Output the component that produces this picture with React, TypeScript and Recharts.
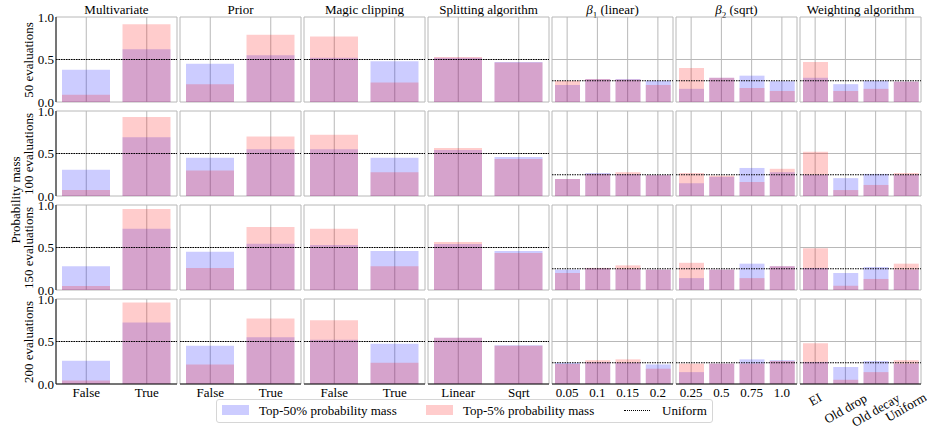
import React from 'react';
import { BarChart, Bar, XAxis, YAxis, CartesianGrid, ReferenceLine } from 'recharts';

const FONT = '"Liberation Serif", "Times New Roman", serif';

const evaluations = [50, 100, 150, 200];

// values per row (50, 100, 150, 200 evaluations), one entry per category
const multivariateCats = ['False', 'True'];
const multivariateTop50 = [[0.38, 0.62], [0.31, 0.69], [0.28, 0.72], [0.275, 0.725]];
const multivariateTop5 = [[0.085, 0.915], [0.07, 0.93], [0.047, 0.953], [0.04, 0.96]];

const priorCats = ['False', 'True'];
const priorTop50 = [[0.45, 0.55], [0.45, 0.55], [0.45, 0.545], [0.45, 0.55]];
const priorTop5 = [[0.21, 0.79], [0.3, 0.7], [0.26, 0.74], [0.23, 0.77]];

const clippingCats = ['False', 'True'];
const clippingTop50 = [[0.52, 0.48], [0.55, 0.45], [0.53, 0.46], [0.52, 0.475]];
const clippingTop5 = [[0.77, 0.23], [0.72, 0.28], [0.72, 0.28], [0.75, 0.25]];

const splittingCats = ['Linear', 'Sqrt'];
const splittingTop50 = [[0.52, 0.47], [0.54, 0.46], [0.54, 0.46], [0.545, 0.455]];
const splittingTop5 = [[0.53, 0.465], [0.565, 0.435], [0.565, 0.435], [0.545, 0.45]];

const beta1Cats = ['0.05', '0.1', '0.15', '0.2'];
const beta1Top50 = [[0.2, 0.27, 0.27, 0.25], [0.2, 0.27, 0.255, 0.245], [0.24, 0.255, 0.245, 0.24], [0.25, 0.255, 0.25, 0.23]];
const beta1Top5 = [[0.25, 0.27, 0.265, 0.2], [0.2, 0.26, 0.28, 0.245], [0.2, 0.26, 0.29, 0.24], [0.235, 0.28, 0.29, 0.18]];

const beta2Cats = ['0.25', '0.5', '0.75', '1.0'];
const beta2Top50 = [[0.155, 0.285, 0.31, 0.245], [0.15, 0.225, 0.33, 0.28], [0.14, 0.24, 0.31, 0.28], [0.14, 0.24, 0.29, 0.28]];
const beta2Top5 = [[0.4, 0.285, 0.165, 0.13], [0.27, 0.24, 0.165, 0.32], [0.32, 0.24, 0.14, 0.28], [0.24, 0.24, 0.24, 0.27]];

const weightingCats = ['EI', 'Old drop', 'Old decay', 'Uniform'];
const weightingTop50 = [[0.285, 0.21, 0.25, 0.24], [0.25, 0.21, 0.26, 0.25], [0.26, 0.2, 0.27, 0.24], [0.26, 0.2, 0.27, 0.24]];
const weightingTop5 = [[0.47, 0.13, 0.155, 0.24], [0.52, 0.07, 0.13, 0.27], [0.49, 0.05, 0.13, 0.31], [0.48, 0.05, 0.14, 0.28]];

const panels = [
  { title: <>Multivariate</>, cats: multivariateCats, top50: multivariateTop50, top5: multivariateTop5 },
  { title: <>Prior</>, cats: priorCats, top50: priorTop50, top5: priorTop5 },
  { title: <>Magic clipping</>, cats: clippingCats, top50: clippingTop50, top5: clippingTop5 },
  { title: <>Splitting algorithm</>, cats: splittingCats, top50: splittingTop50, top5: splittingTop5 },
  { title: <><i>β</i><sub style={{ fontSize: 9 }}>1</sub> (linear)</>, cats: beta1Cats, top50: beta1Top50, top5: beta1Top5 },
  { title: <><i>β</i><sub style={{ fontSize: 9 }}>2</sub> (sqrt)</>, cats: beta2Cats, top50: beta2Top50, top5: beta2Top5 },
  { title: <>Weighting algorithm</>, cats: weightingCats, top50: weightingTop50, top5: weightingTop5 },
];

// layout
const COL_LEFT = [56, 180, 304, 428, 552, 676, 800];
const ROW_TOP = [17, 111, 205, 299];
const W = 121;
const H = 85;
const M = 8;
const BLUE = 'rgba(0,0,255,0.2)';
const RED = 'rgba(255,0,0,0.2)';
const FRAME = '#111';
const GRID = '#b8b8b8';

const ANGLE = 30;
function SlantTick(props: any) {
  const { x, y, payload } = props;
  const label = String(payload.value);
  const w = label.length * 6.1;
  const rad = (ANGLE * Math.PI) / 180;
  const h = w * Math.sin(rad) + 10 * Math.cos(rad);
  const cy = y + 4 + h / 2;
  return (
    <text x={x} y={cy} textAnchor="middle" dominantBaseline="central"
      transform={`rotate(-${ANGLE}, ${x}, ${cy})`} fill="#000" fontSize={13} fontFamily={FONT}>
      {label}
    </text>
  );
}

// keeps the ticks (and so the vertical grid lines) without drawing any label
function NoTick() {
  return <g />;
}

function Panel({ col, row }: { col: number; row: number }) {
  const p = panels[col];
  const n = p.cats.length;
  const data = p.cats.map((c, i) => ({ cat: c, top50: p.top50[row][i], top5: p.top5[row][i] }));
  const yw = col === 0 ? 30 : 0;
  const xh = row === 3 ? (col === 6 ? 44 : 20) : 0;
  const barSize = n === 2 ? 48 : 25;
  const tickStyle = { fill: '#000', fontSize: 13, fontFamily: FONT };

  return (
    <div style={{ position: 'absolute', left: COL_LEFT[col] - yw - M, top: ROW_TOP[row] - M }}>
      <BarChart width={W + yw + 2 * M + 4} height={H + xh + 2 * M} data={data}
        margin={{ top: M, right: M + 4, bottom: M, left: M }}>
        <CartesianGrid xAxisId="a" yAxisId="l" stroke={GRID} strokeWidth={1} />
        <XAxis xAxisId="a" dataKey="cat" height={xh} interval={0} tickLine={false} tickSize={0} tickMargin={4}
          axisLine={{ stroke: FRAME }}
          tick={row === 3 ? (col === 6 ? <SlantTick /> : tickStyle) : <NoTick />} />
        <XAxis xAxisId="b" dataKey="cat" hide />
        <XAxis xAxisId="t" dataKey="cat" orientation="top" height={0} tick={false} tickLine={false}
          axisLine={{ stroke: FRAME }} />
        <YAxis yAxisId="l" domain={[0, 1]} ticks={[0, 0.5, 1]} width={yw} tickLine={false} tickSize={0} tickMargin={2}
          axisLine={{ stroke: FRAME }} tick={col === 0 ? tickStyle : <NoTick />}
          tickFormatter={(v: number) => v.toFixed(1)} />
        <YAxis yAxisId="r" orientation="right" domain={[0, 1]} width={0} tick={false} tickLine={false}
          axisLine={{ stroke: FRAME }} />
        <Bar xAxisId="a" yAxisId="l" dataKey="top50" name="Top-50% probability mass" fill={BLUE}
          barSize={barSize} isAnimationActive={false} />
        <Bar xAxisId="b" yAxisId="l" dataKey="top5" name="Top-5% probability mass" fill={RED}
          barSize={barSize} isAnimationActive={false} />
        <ReferenceLine xAxisId="a" yAxisId="l" y={1 / n} stroke="#000" strokeWidth={1.2} strokeDasharray="1.5 1" />
      </BarChart>
    </div>
  );
}

export default function App() {
  return (
    <div style={{ position: 'absolute', left: 0, top: 0, width: 927, height: 429, background: '#fff', fontFamily: FONT, color: '#000' }}>
      {panels.map((p, c) => (
        <div key={'t' + c} style={{ position: 'absolute', left: COL_LEFT[c], top: 2, width: W, textAlign: 'center', fontSize: 13, lineHeight: '15px', whiteSpace: 'nowrap' }}>
          {p.title}
        </div>
      ))}
      {evaluations.map((e, r) =>
        panels.map((_, c) => <Panel key={`${r}-${c}`} col={c} row={r} />)
      )}
      {evaluations.map((e, r) => (
        <div key={'e' + r} style={{ position: 'absolute', left: 29, top: ROW_TOP[r] + H / 2, transform: 'translate(-50%, -50%) rotate(-90deg)', fontSize: 13, whiteSpace: 'nowrap', lineHeight: '14px' }}>
          {e} evaluations
        </div>
      ))}
      <div style={{ position: 'absolute', left: 16, top: 200, transform: 'translate(-50%, -50%) rotate(-90deg)', fontSize: 13, whiteSpace: 'nowrap', lineHeight: '14px' }}>
        Probability mass
      </div>
      <div style={{ position: 'absolute', left: 216, top: 399, width: 497, height: 24, border: '1px solid #d6d6d6', borderRadius: 3, boxSizing: 'border-box', fontSize: 13 }}>
        <span style={{ position: 'absolute', left: 5, top: 5, width: 27, height: 10, background: BLUE }} />
        <span style={{ position: 'absolute', left: 42, top: 3, lineHeight: '16px', whiteSpace: 'nowrap' }}>Top-50% probability mass</span>
        <span style={{ position: 'absolute', left: 209, top: 5, width: 27, height: 10, background: RED }} />
        <span style={{ position: 'absolute', left: 246, top: 3, lineHeight: '16px', whiteSpace: 'nowrap' }}>Top-5% probability mass</span>
        <span style={{ position: 'absolute', left: 407, top: 10, width: 26, height: 0, borderTop: '1px dotted #000' }} />
        <span style={{ position: 'absolute', left: 445, top: 3, lineHeight: '16px', whiteSpace: 'nowrap' }}>Uniform</span>
      </div>
    </div>
  );
}
